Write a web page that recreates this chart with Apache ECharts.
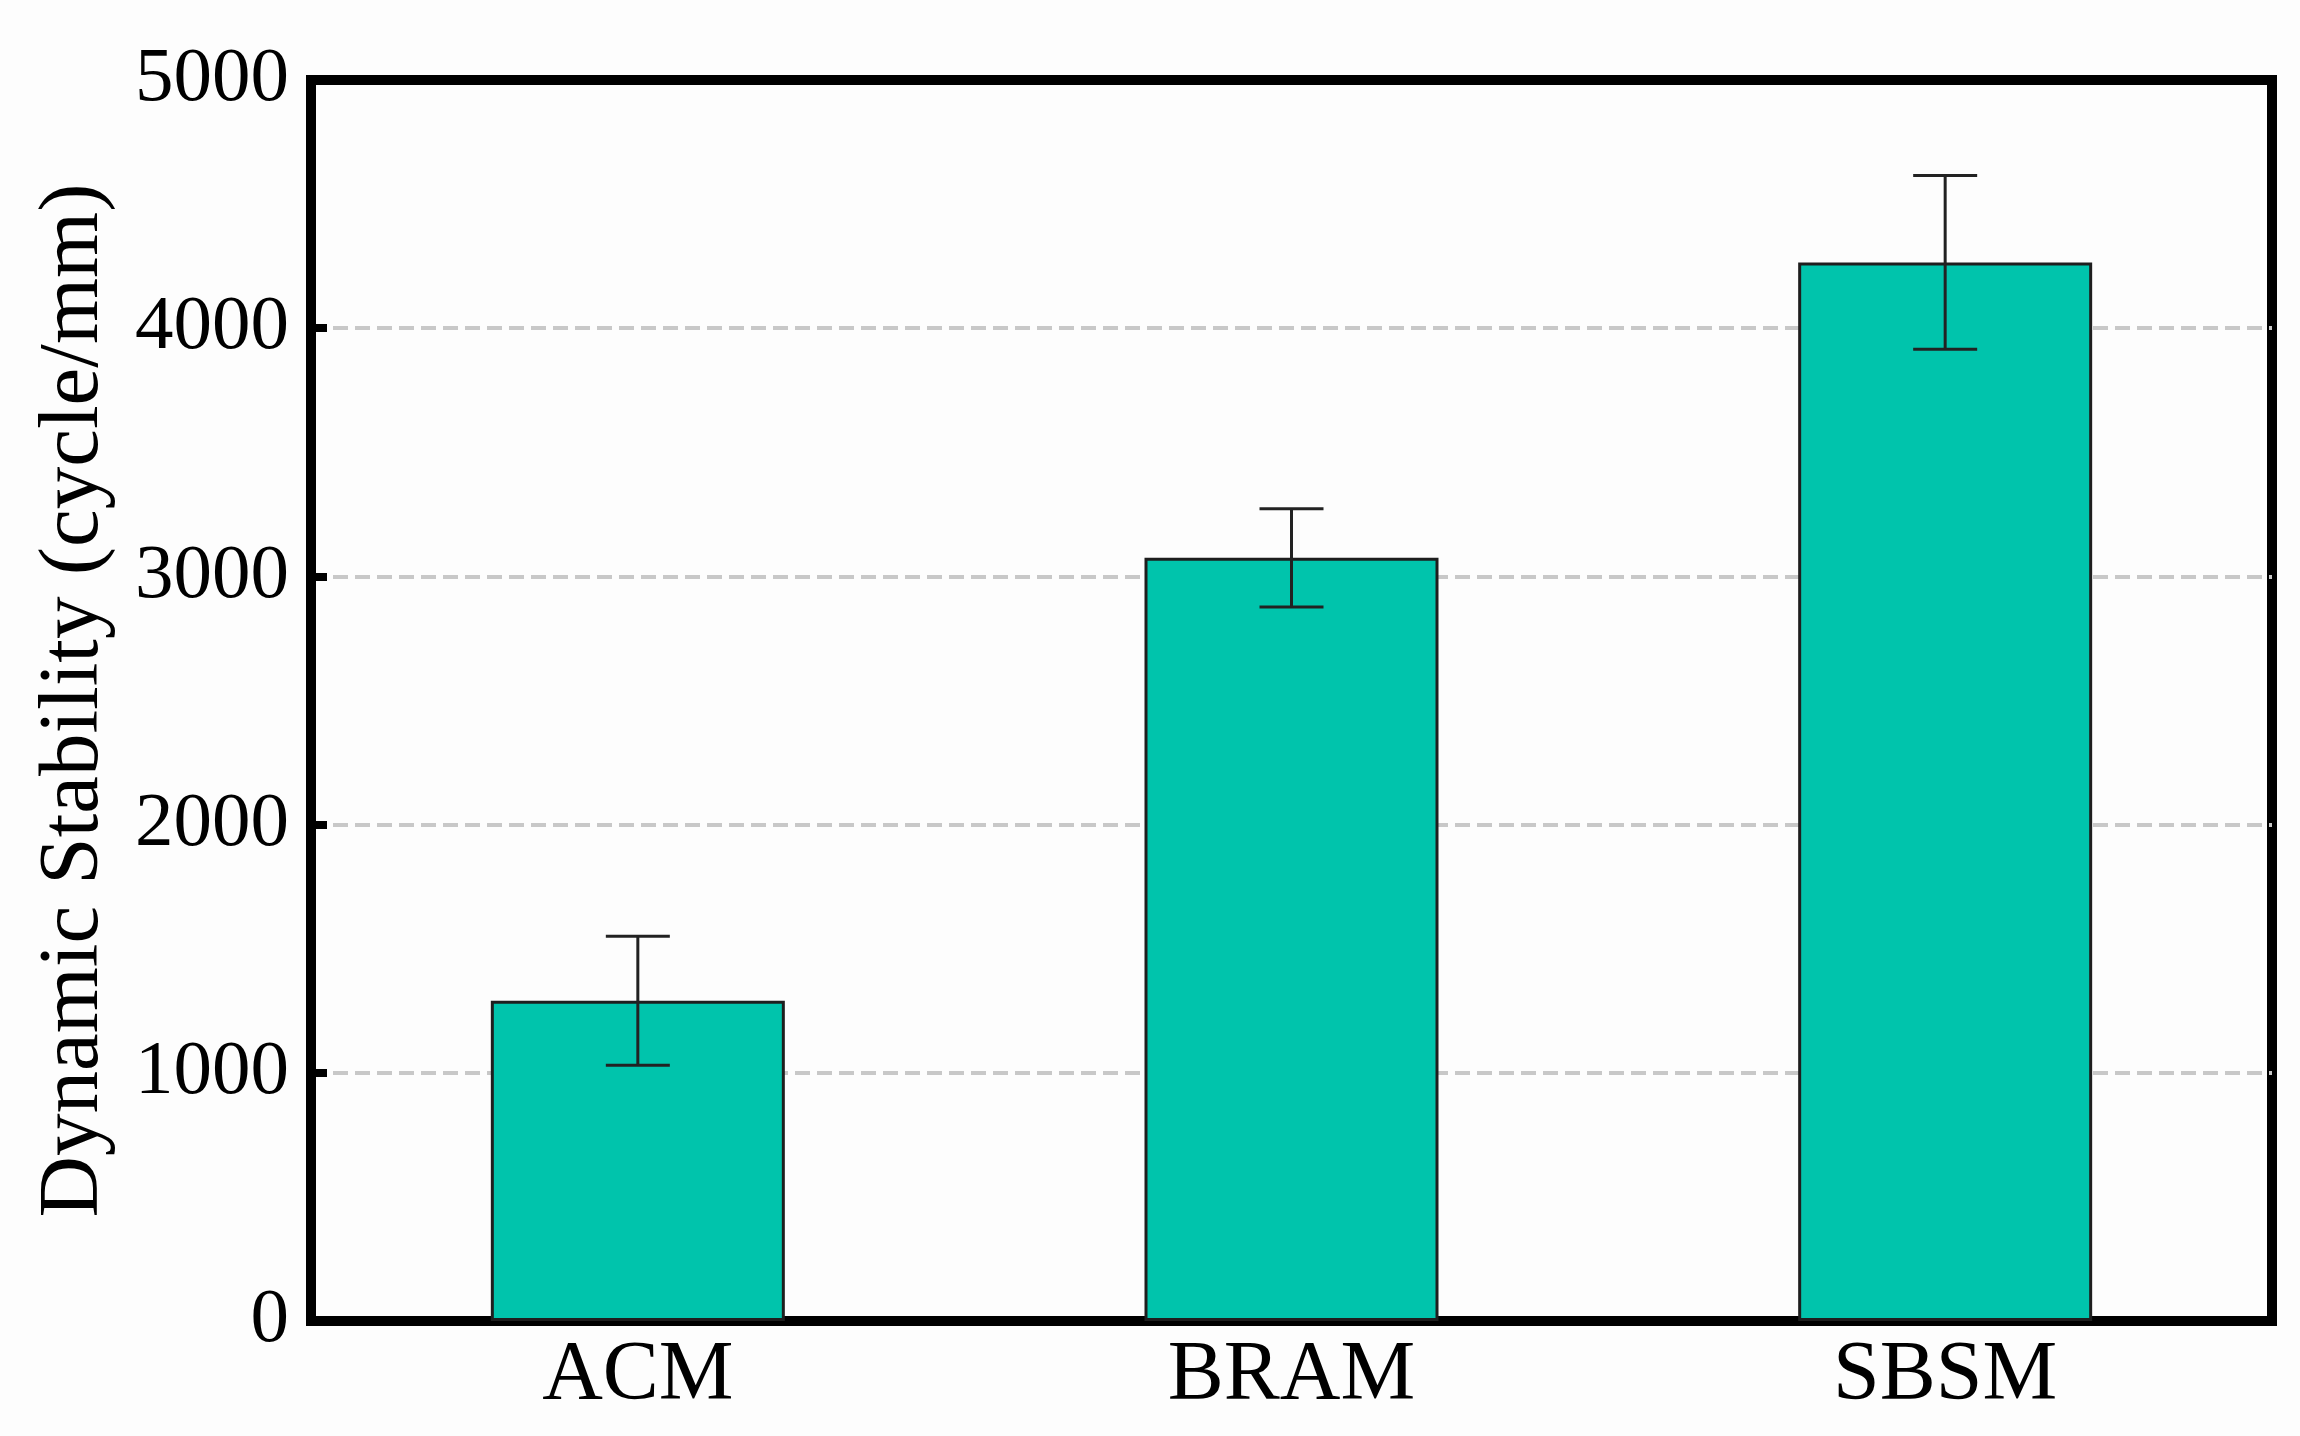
<!DOCTYPE html>
<html>
<head>
<meta charset="utf-8">
<script src="https://cdn.jsdelivr.net/npm/echarts@6/dist/echarts.min.js"></script>
<style>
html,body{margin:0;padding:0;background:#fdfdfd;}
#chart{width:2300px;height:1436px;}
</style>
</head>
<body>
<div id="chart"></div>
<script>
const categories = ['ACM', 'BRAM', 'SBSM'];
const values = [1290, 3075, 4265];
const errors = [260, 198, 350];
const yTicks = [0, 1000, 2000, 3000, 4000, 5000];
const yTitle = 'Dynamic Stability (cycle/mm)';

const FONT = "'Liberation Serif', 'Times New Roman', serif";
const chart = echarts.init(document.getElementById('chart'), null, {renderer: 'canvas'});

const errData = categories.map((c, i) => [i, values[i] - errors[i], values[i] + errors[i]]);

chart.setOption({
  backgroundColor: '#fdfdfd',
  animation: false,
  grid: {
    left: 311, right: 28, top: 80, bottom: 115,
    containLabel: false,
    outerBoundsMode: 'none',
    show: true, borderColor: '#000', borderWidth: 10, backgroundColor: 'transparent'
  },
  xAxis: {
    type: 'category',
    data: categories,
    axisLine: {show: true, lineStyle: {color: '#000', width: 10}},
    axisTick: {show: false},
    axisLabel: {color: '#000', fontSize: 84, fontFamily: FONT, margin: 14}
  },
  yAxis: {
    type: 'value',
    min: yTicks[0], max: yTicks[yTicks.length - 1], interval: 1000,
    name: yTitle,
    nameLocation: 'middle',
    nameGap: 194,
    nameRotate: 90,
    nameTextStyle: {color: '#000', fontSize: 85, fontFamily: FONT},
    axisLine: {show: true, lineStyle: {color: '#000', width: 10}},
    axisTick: {show: true, inside: true, length: 16, lineStyle: {color: '#000', width: 8}},
    axisLabel: {color: '#000', fontSize: 77, fontFamily: FONT, margin: 22,
      formatter: function (v) { return String(v); }},
    splitLine: {show: true, showMinLine: false, showMaxLine: false,
      lineStyle: {color: '#c8c8c8', width: 4, type: [15, 7]}}
  },
  series: [
    {
      type: 'bar',
      data: values,
      barWidth: 294,
      itemStyle: {color: '#00c4ac', borderColor: '#1e1e1e', borderWidth: 3},
      z: 2
    },
    {
      type: 'custom',
      data: errData,
      z: 3,
      renderItem: function (params, api) {
        const x = api.value(0);
        const lo = api.coord([x, api.value(1)]);
        const hi = api.coord([x, api.value(2)]);
        const half = 32;
        const style = {stroke: '#222', lineWidth: 3};
        return {
          type: 'group',
          children: [
            {type: 'line', shape: {x1: lo[0], y1: lo[1], x2: hi[0], y2: hi[1]}, style: style},
            {type: 'line', shape: {x1: hi[0] - half, y1: hi[1], x2: hi[0] + half, y2: hi[1]}, style: style},
            {type: 'line', shape: {x1: lo[0] - half, y1: lo[1], x2: lo[0] + half, y2: lo[1]}, style: style}
          ]
        };
      }
    }
  ]
});
</script>
</body>
</html>
